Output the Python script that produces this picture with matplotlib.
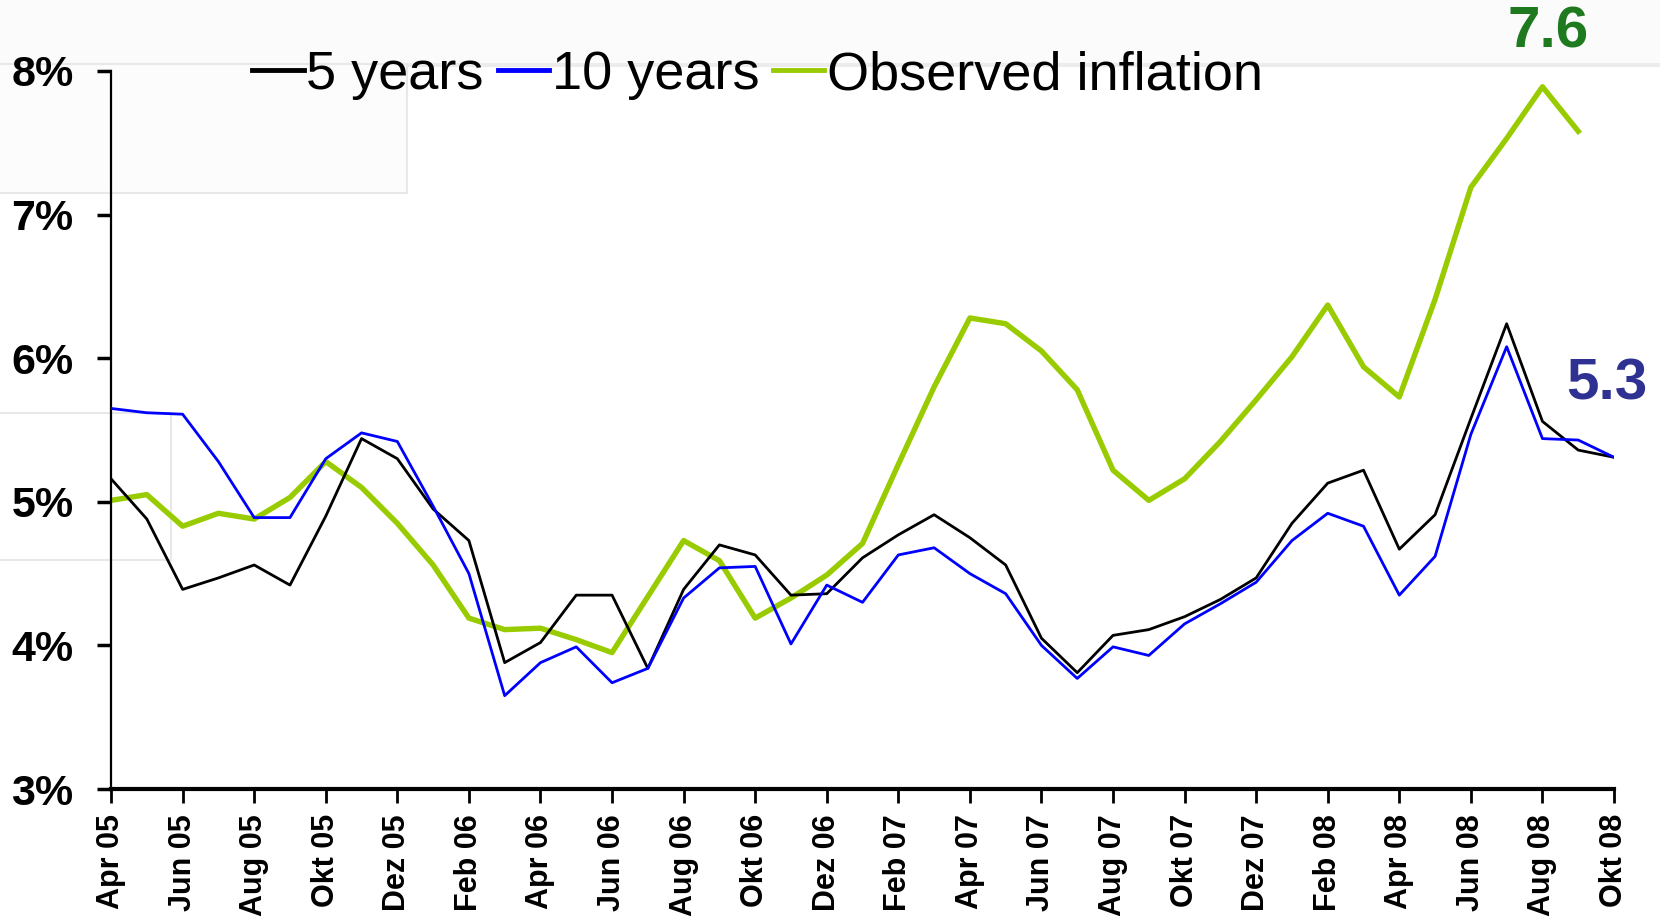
import matplotlib
matplotlib.use('Agg')
import matplotlib.pyplot as plt
import numpy as np
from matplotlib.patches import Rectangle

# %% Data (percent, monthly Apr 05 .. Okt 08)
tick_labels = ['Apr 05', 'Jun 05', 'Aug 05', 'Okt 05', 'Dez 05', 'Feb 06',
               'Apr 06', 'Jun 06', 'Aug 06', 'Okt 06', 'Dez 06', 'Feb 07',
               'Apr 07', 'Jun 07', 'Aug 07', 'Okt 07', 'Dez 07', 'Feb 08',
               'Apr 08', 'Jun 08', 'Aug 08', 'Okt 08']

five_years = [5.16, 4.88, 4.39, 4.47, 4.56, 4.42, 4.90, 5.44, 5.30, 4.95,
              4.73, 3.88, 4.02, 4.35, 4.35, 3.84, 4.39, 4.70, 4.63, 4.35,
              4.36, 4.61, 4.77, 4.91, 4.75, 4.56, 4.05, 3.81, 4.07, 4.11,
              4.20, 4.32, 4.47, 4.85, 5.13, 5.22, 4.67, 4.91, 5.58, 6.24,
              5.56, 5.36, 5.31]

ten_years = [5.65, 5.62, 5.61, 5.28, 4.89, 4.89, 5.30, 5.48, 5.42, 4.97,
             4.50, 3.65, 3.88, 3.99, 3.74, 3.84, 4.33, 4.54, 4.55, 4.01,
             4.42, 4.30, 4.63, 4.68, 4.50, 4.36, 4.00, 3.77, 3.99, 3.93,
             4.15, 4.29, 4.44, 4.73, 4.92, 4.83, 4.35, 4.62, 5.47, 6.08,
             5.44, 5.43, 5.31]

inflation = [5.01, 5.05, 4.83, 4.92, 4.88, 5.03, 5.28, 5.10, 4.85, 4.56,
             4.19, 4.11, 4.12, 4.04, 3.95, 4.34, 4.73, 4.59, 4.19, 4.33,
             4.49, 4.71, 5.26, 5.80, 6.28, 6.24, 6.05, 5.78, 5.22, 5.01,
             5.16, 5.42, 5.71, 6.01, 6.37, 5.94, 5.73, 6.41, 7.19, 7.53,
             7.89, 7.58]

label_inflation = '7.6'
label_ten = '5.3'

# %% Figure
plt.rcParams['font.family'] = ['Liberation Sans', 'DejaVu Sans']

fig = plt.figure(figsize=(16.6, 9.18), dpi=100, facecolor='#fbfbfb')

# faint slide artefacts in the background
fig.patches.append(Rectangle((0, 0), 1, 0.927, transform=fig.transFigure,
                             facecolor='white', edgecolor='none', zorder=-3))
fig.patches.append(Rectangle((0, 0.927), 1, 0.004, transform=fig.transFigure,
                             facecolor='#ececec', edgecolor='none', zorder=-2))
fig.patches.append(Rectangle((-0.01, 0.79), 0.255, 0.14,
                             transform=fig.transFigure, facecolor='#fcfcfc',
                             edgecolor='#e8e8e8', lw=1.5, zorder=-2))
fig.patches.append(Rectangle((-0.01, 0.39), 0.113, 0.16,
                             transform=fig.transFigure, facecolor='none',
                             edgecolor='#e8e8e8', lw=1.5, zorder=-2))

ax = fig.add_axes([0.0669, 0.1405, 0.9723 - 0.0669, 0.9227 - 0.1405])
ax.set_facecolor('none')

x5 = np.arange(len(five_years))
x10 = np.arange(len(ten_years))
xi = np.arange(len(inflation))

ax.plot(x5, five_years, color='black', lw=2.0, label='5 years', zorder=3)
ax.plot(x10, ten_years, color='#0000ff', lw=2.0, label='10 years', zorder=4)
ax.plot(xi, inflation, color='#99cc00', lw=3.9, label='Observed inflation',
        zorder=2)

ax.set_xlim(0, len(five_years) - 1)
ax.set_ylim(3, 8)

ax.set_xticks(np.arange(0, len(five_years), 2))
ax.set_xticklabels(tick_labels, rotation=90, fontsize=22, fontweight='bold')
ax.set_yticks([3, 4, 5, 6, 7, 8])
ax.set_yticklabels(['%d%%' % v for v in [3, 4, 5, 6, 7, 8]], fontsize=31,
                   fontweight='bold')

ax.tick_params(axis='x', direction='out', length=10, width=2, pad=8)
ax.tick_params(axis='y', direction='out', length=10, width=2.5, pad=17)

for side in ['top', 'right']:
    ax.spines[side].set_visible(False)
ax.spines['left'].set_linewidth(1.6)
ax.spines['bottom'].set_linewidth(3)

# end labels
ax.text(40.15, 8.27, label_inflation, color='#1f7a1f', fontsize=42,
        fontweight='bold', ha='center', va='center', clip_on=False)
ax.text(41.8, 5.82, label_ten, color='#2e3192', fontsize=42,
        fontweight='bold', ha='center', va='center', clip_on=False)

leg = fig.legend(loc='center left', bbox_to_anchor=(0.152, 0.918), ncol=3,
                 frameon=False, fontsize=39, handlelength=0.95,
                 handletextpad=0.05, columnspacing=0.25, borderpad=0,
                 borderaxespad=0)
for h in leg.get_lines():
    h.set_linewidth(3.5)

fig.savefig('out.png', dpi=100, facecolor=fig.get_facecolor())
